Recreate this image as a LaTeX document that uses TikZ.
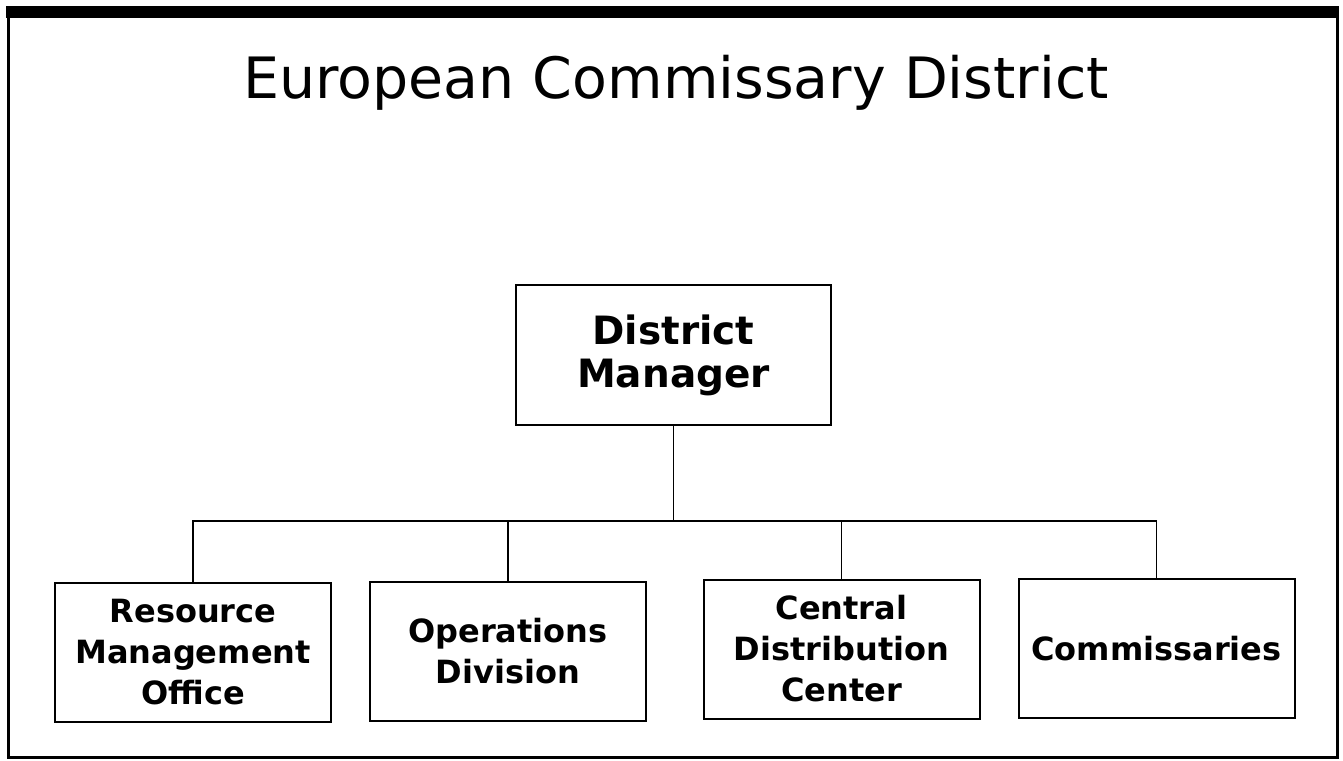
\documentclass[tikz,border=0pt]{standalone}
\usepackage{fontspec}
\setmainfont{DejaVu Sans}
\usepackage{tikz}
\usetikzlibrary{calc}
\usetikzlibrary{positioning}
\tikzset{unitbox/.style={draw, line width=2pt, align=center, inner sep=0pt,
  minimum width=276pt, minimum height=139pt,
  font=\fontsize{32}{41}\selectfont\bfseries}}

\begin{document}
\begin{tikzpicture}[x=1pt, y=-1pt]
\tikzstyle{linkstyle} = [line width=1.6pt]
\useasboundingbox (0, 0) rectangle (1343, 760);
% frame
\draw[line width=3pt] (8, 12) -- (8, 757) -- (1337, 757) -- (1337, 12);
\fill (6, 6) rectangle (1339, 18);
\node[anchor=base, font=\fontsize{57}{60}\selectfont](title) at (676, 98){European Commissary District};
% boxes
\node[unitbox, minimum width=315pt, minimum height=140pt,
  font=\fontsize{39}{43}\selectfont\bfseries](dm) at (673.5, 355){District\\Manager};
\node[unitbox](rmo) at (193, 652.5){Resource\\Management\\Office};
\node[unitbox](opd) at (508, 651){Operations\\Division};
\node[unitbox](cdc) at (841.5, 649){Central\\Distribution\\Center};
\node[unitbox](com) at (1156.5, 648.5){Commissaries};
% links
\coordinate (bus) at (675, 521);
\draw[linkstyle] (dm.south) -- (dm.south |- bus);
\draw[linkstyle] (rmo.north) -- (rmo.north |- bus) -- (com.north |- bus) -- (com.north);
\draw[linkstyle] (opd.north) -- (opd.north |- bus);
\draw[linkstyle] (cdc.north) -- (cdc.north |- bus);
\end{tikzpicture}
\end{document}
